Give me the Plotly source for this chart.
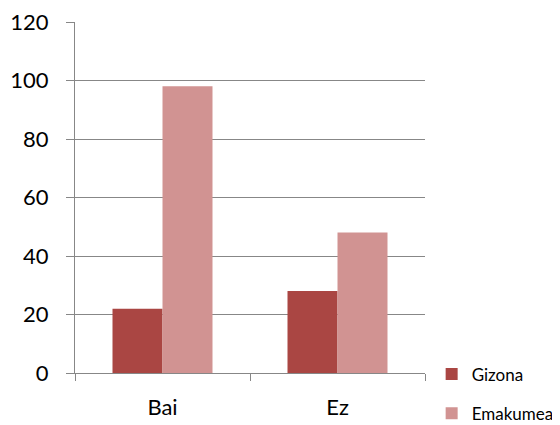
import plotly.graph_objects as go

categories = ["Bai", "Ez"]
gizona = [22, 28]
emakumea = [98, 48]
series_names = ["Gizona", "Emakumea"]
y_ticks = [0, 20, 40, 60, 80, 100, 120]

FONT = "Lato"
GRID = "#878787"

fig = go.Figure()
fig.add_trace(go.Bar(x=categories, y=gizona, name=series_names[0],
                     marker=dict(color="#AA4643", line=dict(width=0)), legendgroup="g1"))
fig.add_trace(go.Bar(x=categories, y=emakumea, name=series_names[1],
                     marker=dict(color="#D19392", line=dict(width=0)), legendgroup="g2"))

# page body has an 8px default margin, so the figure is sized 8px smaller
fig.update_layout(
    width=552, height=417,
    margin=dict(l=67, r=135, t=14, b=52, autoexpand=False),
    paper_bgcolor="white", plot_bgcolor="white",
    barmode="group", bargap=0.4286, bargroupgap=0,
    font=dict(family=FONT, color="black"),
    showlegend=True,
    legend=dict(x=1.019, y=0.047, xanchor="left", yanchor="top",
                traceorder="grouped", tracegroupgap=14,
                font=dict(size=17, family=FONT), itemwidth=30,
                bgcolor="rgba(0,0,0,0)"),
)
fig.update_xaxes(showline=True, linecolor=GRID, linewidth=1, automargin=False,
                 ticks="outside", ticklen=7, tickcolor=GRID, tickson="boundaries",
                 tickfont=dict(size=22, family=FONT), ticklabelstandoff=15,
                 ticklabeloverflow="allow", showgrid=False)
fig.update_yaxes(range=[0, 120], tickvals=y_ticks, showline=True, linecolor=GRID, linewidth=1,
                 automargin=False, ticklabeloverflow="allow",
                 ticks="outside", ticklen=8, tickcolor=GRID,
                 showgrid=True, gridcolor=GRID, gridwidth=1,
                 tickfont=dict(size=22, family=FONT), ticklabelstandoff=13,
                 zeroline=False)

fig.write_html("out.html")
